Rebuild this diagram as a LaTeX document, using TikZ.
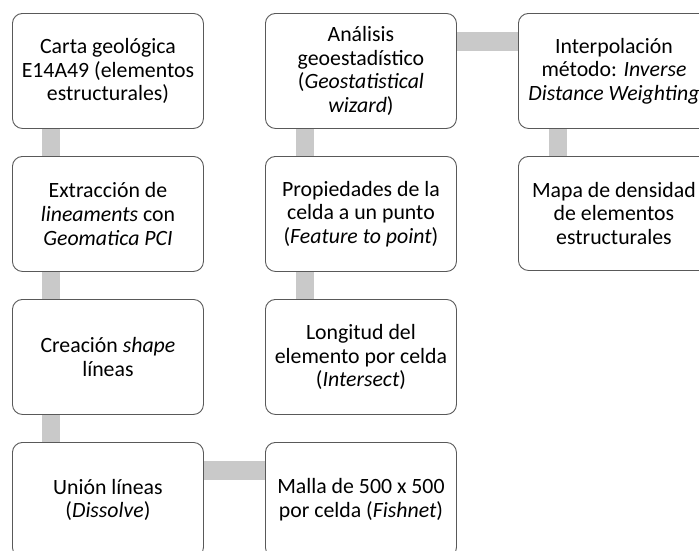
\documentclass[tikz,border=0pt]{standalone}
\usepackage{fontspec}
\setmainfont{Carlito}
\usetikzlibrary{backgrounds,calc}
\begin{document}
\begin{tikzpicture}[x=1pt,y=-1pt,
  stepbox/.style={draw=black!65,line width=0.9pt,fill=white,rounded corners=10pt,
    minimum width=191pt,minimum height=115pt,inner sep=0pt,anchor=north west,
    align=center,font=\fontsize{21.8}{23.6}\selectfont},
  bar/.style={fill=black!21}]
\useasboundingbox (0,0) rectangle (699,550);
\clip (0,0) rectangle (699,550);
\node[stepbox] (b1) at (12,13) {Carta geológica\\E14A49 (elementos\\estructurales)};
\node[stepbox] (b2) at (12,156) {Extracción de\\\textit{lineaments} con\\\textit{Geomatica PCI}};
\node[stepbox] (b3) at (12,299) {Creación \textit{shape}\\líneas};
\node[stepbox] (b4) at (12,442) {Unión líneas\\(\textit{Dissolve})};
\node[stepbox] (b5) at (265,13) {Análisis\\geoestadístico\\(\textit{Geostatistical}\\\textit{wizard})};
\node[stepbox] (b6) at (265,156) {Propiedades de la\\celda a un punto\\(\textit{Feature to point})};
\node[stepbox] (b7) at (265,299) {Longitud del\\elemento por celda\\(\textit{Intersect})};
\node[stepbox] (b8) at (265,442) {Malla de 500 x 500\\por celda (\textit{Fishnet})};
\node[stepbox] (b9) at (518,13) {Interpolación\\método: \textit{Inverse}\\\textit{Distance Weighting}};
\node[stepbox,minimum height=114pt] (b10) at (518,156) {Mapa de densidad\\de elementos\\estructurales};
\begin{scope}[on background layer]
\fill[bar] ($(b1.south west)+(30,0)$) rectangle ($(b2.north west)+(48,0)$);
\fill[bar] ($(b2.south west)+(30,0)$) rectangle ($(b3.north west)+(48,0)$);
\fill[bar] ($(b3.south west)+(30,0)$) rectangle ($(b4.north west)+(48,0)$);
\fill[bar] ($(b5.south west)+(31,0)$) rectangle ($(b6.north west)+(49,0)$);
\fill[bar] ($(b6.south west)+(31,0)$) rectangle ($(b7.north west)+(49,0)$);
\fill[bar] ($(b9.south west)+(31,0)$) rectangle ($(b10.north west)+(49,0)$);
\fill[bar] ($(b5.north east)+(0,19)$) rectangle ($(b9.north west)+(0,38)$);
\fill[bar] ($(b4.north east)+(0,19)$) rectangle ($(b8.north west)+(0,38)$);
\end{scope}
\end{tikzpicture}
\end{document}
